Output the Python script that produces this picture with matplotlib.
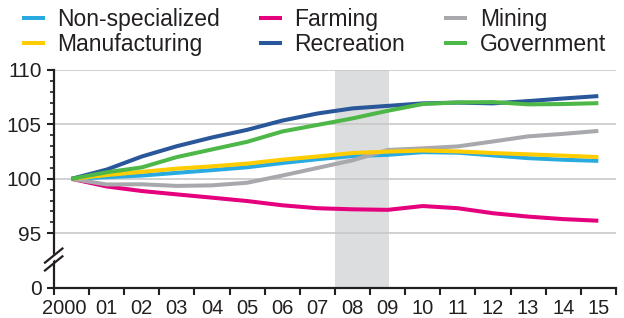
import numpy as np
import matplotlib
matplotlib.use("Agg")
import matplotlib.pyplot as plt
import matplotlib.transforms as mtransforms
from matplotlib.lines import Line2D

plt.rcParams['font.family'] = ['Liberation Sans', 'DejaVu Sans']

# Index values (2000 = 100)
years = np.arange(2000, 2016)
year_labels = ['2000'] + ['%02d' % (y % 100) for y in years[1:]]

non_specialized = [100, 100.15, 100.3, 100.55, 100.8, 101.06, 101.45, 101.8,
                   102.1, 102.2, 102.45, 102.4, 102.15, 101.9, 101.75, 101.65]
farming = [100, 99.3, 98.88, 98.57, 98.27, 97.96, 97.57, 97.3,
           97.2, 97.15, 97.5, 97.3, 96.84, 96.53, 96.3, 96.15]
mining = [100, 99.48, 99.5, 99.35, 99.4, 99.64, 100.3, 101.0,
          101.7, 102.65, 102.8, 102.98, 103.43, 103.9, 104.13, 104.4]
manufacturing = [100, 100.35, 100.64, 100.94, 101.15, 101.4, 101.76, 102.05,
                 102.37, 102.5, 102.6, 102.52, 102.37, 102.25, 102.13, 102.0]
recreation = [100, 100.85, 102.05, 103.0, 103.8, 104.5, 105.35, 106.0,
              106.47, 106.7, 106.93, 107.0, 106.93, 107.14, 107.38, 107.6]
government = [100, 100.6, 101.05, 102.0, 102.7, 103.4, 104.35, 104.95,
              105.55, 106.25, 106.87, 107.02, 107.05, 106.84, 106.87, 106.95]

recession_start = 2007.5
recession_end = 2009.05

series = [
    ('Non-specialized', non_specialized, '#29ABE2'),
    ('Farming', farming, '#E5007E'),
    ('Mining', mining, '#A7A9AC'),
    ('Manufacturing', manufacturing, '#FFCC00'),
    ('Recreation', recreation, '#2A579A'),
    ('Government', government, '#4DB848'),
]

# y axis: bottom "0" is a fake break at 90
y_ticks = [90, 95, 100, 105, 110]
y_tick_labels = ['0', '95', '100', '105', '110']

TEXT_COLOR = '#231F20'

fig = plt.figure(figsize=(6.24, 3.18), dpi=100)
ax = fig.add_axes([0.0865, 0.0953, 0.9005, 0.6847])

ax.axvspan(recession_start, recession_end, color='#DCDDDE', zorder=0.2, lw=0)
for y in y_ticks[1:]:
    ax.axhline(y, color='#C8C8C8', lw=1.2, zorder=0.5)

handles = {}
for name, vals, color in series:
    line, = ax.plot(years, vals, color=color, lw=2.9, solid_capstyle='butt',
                    zorder=2)
    handles[name] = line

ax.set_xlim(1999.5, 2015.5)
ax.set_ylim(90, 110)

# x ticks at category boundaries, labels at the points
ax.set_xticks(np.arange(1999.5, 2016, 1.0))
ax.set_xticklabels([])
ax.set_xticks(years, minor=True)
ax.set_xticklabels(year_labels, minor=True)
ax.tick_params(axis='x', which='major', direction='out', length=5, width=1.5,
               color=TEXT_COLOR)
ax.tick_params(axis='x', which='minor', length=0, pad=8, labelsize=14.5,
               labelcolor=TEXT_COLOR)
# the "2000" label sits a little left of its point
first = ax.get_xticklabels(minor=True)[0]
first.set_transform(first.get_transform() +
                    mtransforms.ScaledTranslation(-7 / 100, 0, fig.dpi_scale_trans))

ax.set_yticks(y_ticks)
ax.set_yticklabels(y_tick_labels)
ax.set_yticks([v for v in range(96, 110) if v % 5 != 0], minor=True)
ax.tick_params(axis='y', which='major', direction='out', length=5, width=1.5,
               pad=4, labelsize=15, labelcolor=TEXT_COLOR, color=TEXT_COLOR)
ax.tick_params(axis='y', which='minor', direction='out', length=3, width=1.2,
               color=TEXT_COLOR)

for side in ['top', 'right']:
    ax.spines[side].set_visible(False)
for side in ['left', 'bottom']:
    ax.spines[side].set_linewidth(1.6)
    ax.spines[side].set_color(TEXT_COLOR)

# axis break marks
for dy in (0.0, -0.036):
    ax.add_line(Line2D([-0.016, 0.015], [0.115 + dy, 0.18 + dy],
                       transform=ax.transAxes, color=TEXT_COLOR, lw=1.6,
                       clip_on=False, zorder=5))
ax.add_patch(plt.Polygon([[-0.012, 0.105], [0.01, 0.15], [0.01, 0.17], [-0.012, 0.125]],
                         closed=True, transform=ax.transAxes, color='white',
                         clip_on=False, zorder=4))

order = ['Non-specialized', 'Manufacturing', 'Farming', 'Recreation',
         'Mining', 'Government']
fig.legend([handles[n] for n in order], order, ncol=3, loc='upper left',
           bbox_to_anchor=(0.02, 1.003), frameon=False, fontsize=16.5,
           handlelength=1.0, handletextpad=0.55, columnspacing=1.7,
           labelspacing=0.08, borderaxespad=0, labelcolor=TEXT_COLOR)

fig.savefig('out.png', dpi=100)
